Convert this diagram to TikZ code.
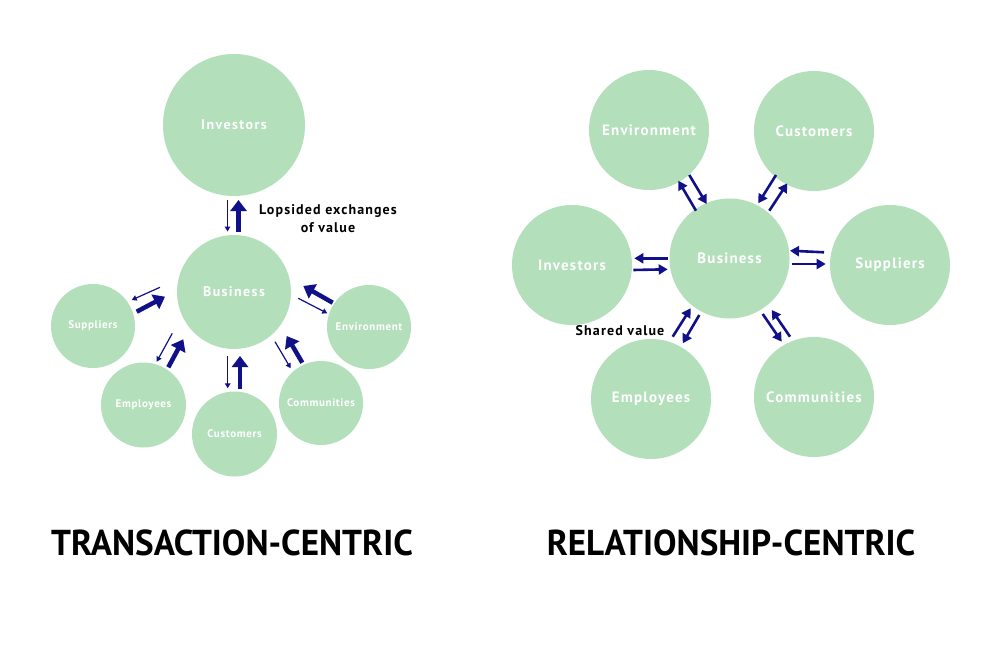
\documentclass[tikz,border=0pt]{standalone}
\usepackage{fontspec}
\setmainfont{PT Sans}
\usetikzlibrary{arrows.meta}
\definecolor{bubble}{RGB}{179,223,187}
\definecolor{navy}{RGB}{16,16,136}
\begin{document}
\begin{tikzpicture}[x=1pt,y=-1pt,
  bub/.style={circle, fill=bubble, draw=none, inner sep=0pt, text=white, align=center},
  bigl/.style={font=\fontsize{14}{16}\selectfont\bfseries\addfontfeature{LetterSpace=10}},
  smalll/.style={font=\fontsize{11}{13}\selectfont\bfseries\addfontfeature{LetterSpace=6}},
  rightl/.style={font=\fontsize{15}{17}\selectfont\bfseries\addfontfeature{LetterSpace=8}},
  thinarr/.style={draw=navy, line width=1.2pt, -{Triangle[width=5.5pt,length=5pt]}},
  thickarr/.style={draw=navy, line width=4.5pt, -{Triangle[width=16pt,length=11pt]}},
  relarr/.style={draw=navy, line width=2.6pt, -{Triangle[width=10pt,length=9pt]}},
  note/.style={font=\fontsize{14}{18}\selectfont\bfseries\addfontfeature{LetterSpace=8}, text=black, align=center},
  title/.style={font=\fontsize{36}{40}\selectfont\bfseries, text=black}
]
\useasboundingbox (0,0) rectangle (1000,647);
\fill[white] (0,0) rectangle (1000,647);

% ---------- Transaction-centric ----------
\node[bub, bigl, minimum size=142pt] (LInv) at (234,125) {Investors};
\node[bub, bigl, minimum size=114pt] (LBus) at (234,292) {Business};
\node[bub, smalll, minimum size=84pt] (LSup) at (93,326) {Suppliers};
\node[bub, smalll, minimum size=84pt] (LEnv) at (369,327) {Environment};
\node[bub, smalll, minimum size=85pt] (LEmp) at (143.5,405) {Employees};
\node[bub, smalll, minimum size=85pt] (LCus) at (234.5,434) {Customers};
\node[bub, smalll, minimum size=84pt] (LCom) at (321,403) {Communities};

% investors
\draw[thinarr] (227.5,200) coordinate (li1) -- (227.5,231.5) coordinate (li2);
\draw[thickarr] (238.5,231.5) coordinate (li3) -- (238.5,200) coordinate (li4);
% suppliers
\draw[thinarr] (160,287.3) coordinate (ls1) -- (131.7,300) coordinate (ls2);
\draw[thickarr] (136.7,311.7) coordinate (ls3) -- (165,296.7) coordinate (ls4);
% environment
\draw[thickarr] (332.7,302.7) coordinate (le1) -- (303.3,286) coordinate (le2);
\draw[thinarr] (298.3,298.3) coordinate (le3) -- (327.3,313.3) coordinate (le4);
% employees
\draw[thinarr] (172.3,333.3) coordinate (lm1) -- (156.7,361.7) coordinate (lm2);
\draw[thickarr] (168.3,367.3) coordinate (lm3) -- (183.3,339.3) coordinate (lm4);
% customers
\draw[thinarr] (227.7,356) coordinate (lc1) -- (227.7,388.3) coordinate (lc2);
\draw[thickarr] (240,389) coordinate (lc3) -- (240,356) coordinate (lc4);
% communities
\draw[thinarr] (275,341.7) coordinate (lo1) -- (290.7,368.3) coordinate (lo2);
\draw[thickarr] (302.3,362.7) coordinate (lo3) -- (286.7,336) coordinate (lo4);

\node[note] (lop) at (328,219) {Lopsided exchanges\\of value};

\node[title] (ttl1) at (232,543) {\scalebox{0.975}[1]{TRANSACTION-CENTRIC}};

% ---------- Relationship-centric ----------
\node[bub, rightl, minimum size=120pt] (REnv) at (649,130) {Environment};
\node[bub, rightl, minimum size=120pt] (RCus) at (814,131) {Customers};
\node[bub, rightl, minimum size=120pt] (RInv) at (572,265) {Investors};
\node[bub, rightl, minimum size=120pt] (RBus) at (729.5,258.5) {Business};
\node[bub, rightl, minimum size=120pt] (RSup) at (890,265) {Suppliers};
\node[bub, rightl, minimum size=120pt] (REmp) at (651,399) {Employees};
\node[bub, rightl, minimum size=120pt] (RCom) at (814,397) {Communities};

\draw[relarr] (696,210.7) coordinate (re1) -- (678.3,180.7) coordinate (re2);
\draw[relarr] (689.3,175) coordinate (re3) -- (706.7,204) coordinate (re4);
\draw[relarr] (776,175) coordinate (rc1) -- (758.3,203.3) coordinate (rc2);
\draw[relarr] (769.3,210.7) coordinate (rc3) -- (787.3,183.3) coordinate (rc4);
\draw[relarr] (667.7,258.3) coordinate (ri1) -- (634.3,258.3) coordinate (ri2);
\draw[relarr] (633.3,270) coordinate (ri3) -- (667.7,269.3) coordinate (ri4);
\draw[relarr] (824,252.3) coordinate (rs1) -- (790,250.7) coordinate (rs2);
\draw[relarr] (791.7,264) coordinate (rs3) -- (825.7,264) coordinate (rs4);
\draw[relarr] (672.7,336.7) coordinate (rm1) -- (690.7,308.3) coordinate (rm2);
\draw[relarr] (699.3,315) coordinate (rm3) -- (682.7,343.3) coordinate (rm4);
\draw[relarr] (762.7,314) coordinate (ro1) -- (781.7,341.7) coordinate (ro2);
\draw[relarr] (790,336.7) coordinate (ro3) -- (771.7,310) coordinate (ro4);

\node[note] (shv) at (620,331) {Shared value};

\node[title] (ttl2) at (731,543) {\scalebox{0.975}[1]{RELATIONSHIP-CENTRIC}};
\end{tikzpicture}
\end{document}
